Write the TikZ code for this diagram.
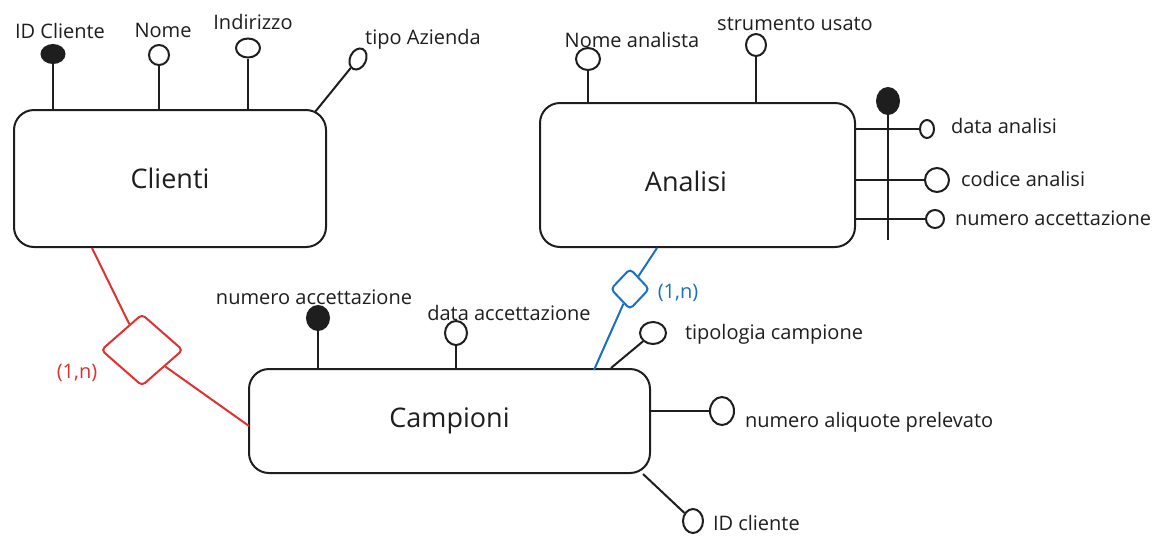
\documentclass[tikz,border=0pt]{standalone}
\usepackage{fontspec}
\setmainfont{Open Sans}
\usepackage{xcolor}
\usetikzlibrary{shapes.geometric}
\definecolor{ink}{HTML}{1E1E1E}
\definecolor{relred}{HTML}{E03131}
\definecolor{relblue}{HTML}{1971C2}
\newcommand{\attrsize}{\fontsize{20}{23}\selectfont}
\newcommand{\entsize}{\fontsize{27}{31}\selectfont}
\tikzset{
	entity/.style={rectangle,draw=ink,line width=2pt,rounded corners=20pt,font=\entsize,text=ink},
	ent label/.style={font=\entsize,text=ink,inner sep=0pt},
	attr/.style={ellipse,draw=ink,line width=2pt,inner sep=0pt,minimum width=20pt,minimum height=20pt},
	key attr/.style={attr,fill=ink},
	attr label/.style={font=\attrsize,text=ink,inner sep=0pt},
	rel/.style={diamond,draw,line width=2pt,inner sep=0pt,rounded corners=4pt},
	card/.style={font=\attrsize,inner sep=0pt}
}

\begin{document}
\begin{tikzpicture}[x=1pt,y=-1pt,line width=2pt,color=ink]
      \useasboundingbox (0,0) rectangle (1170,547);

      % entities
      \node[entity,minimum width=312pt,minimum height=137pt] (cli) at (170,178.5) {Clienti};
      \node[entity,minimum width=315pt,minimum height=144pt] (ana) at (697.5,175) {};
      \node[ent label] (ana-l) at (686,181) {Analisi};
      \node[entity,minimum width=401pt,minimum height=104pt] (cam) at (449.5,421) {Campioni};

      % Clienti
      \node[key attr,minimum width=23pt,minimum height=18pt] (idc) at (53,54) {};
      \node[attr label] (idc-l) at (60,31) {ID Cliente};
      \node[attr] (nom) at (159,55) {};
      \node[attr label] (nom-l) at (163,30) {Nome};
      \node[attr,minimum width=24pt,minimum height=19pt] (ind) at (248,48) {};
      \node[attr label] (ind-l) at (253,22) {Indirizzo};
      \node[attr,minimum width=16pt,minimum height=22pt,rotate=-25] (tip) at (358,59) {};
      \node[attr label] (tip-l) at (423,39) {tipo Azienda};
      \coordinate (tip-a) at (315,112);

      \draw (idc) -- (idc |- cli.north);
      \draw (nom) -- (nom |- cli.north);
      \draw (ind) -- (ind |- cli.north);
      \draw (tip-a) -- (tip);

      % Analisi
      \node[attr,minimum width=24pt,minimum height=22pt] (nan) at (588,59) {};
      \node[attr label] (nan-l) at (632,40) {Nome analista};
      \node[attr,minimum width=20pt,minimum height=22pt] (str) at (756,45) {};
      \node[attr label] (str-l) at (795,24) {strumento usato};
      \node[key attr,minimum width=22pt,minimum height=26pt] (kan) at (888,101) {};
      \coordinate (kan-e) at (888,240);
      \node[attr,minimum width=14pt,minimum height=18pt] (dan) at (927,129) {};
      \node[attr label,anchor=west] (dan-l) at (950,126) {data analisi};
      \node[attr,minimum width=24pt,minimum height=24pt] (cod) at (937,180) {};
      \node[attr label,anchor=west] (cod-l) at (960,179) {codice analisi};
      \node[attr,minimum width=18pt,minimum height=18pt] (nac) at (935,219) {};
      \node[attr label,anchor=west] (nac-l) at (954,218) {numero accettazione};

      \draw (nan) -- (nan |- ana.north);
      \draw (str) -- (str |- ana.north);
      \draw (kan) -- (kan-e);
      \draw (ana.east |- dan) -- (dan);
      \draw (ana.east |- cod) -- (cod);
      \draw (ana.east |- nac) -- (nac);

      % Campioni
      \node[key attr,minimum width=22pt,minimum height=24pt] (ncc) at (318,318) {};
      \node[attr label] (ncc-l) at (314,297) {numero accettazione};
      \node[attr,minimum width=22pt,minimum height=24pt] (dac) at (456,333) {};
      \node[attr label] (dac-l) at (509,313) {data accettazione};
      \node[attr,minimum width=26pt,minimum height=22pt] (tpc) at (653,333) {};
      \node[attr label,anchor=west] (tpc-l) at (684,334) {tipologia campione};
      \coordinate (tpc-a) at (611,368);
      \node[attr,minimum width=24pt,minimum height=28pt] (alq) at (722,411) {};
      \node[attr label,anchor=west] (alq-l) at (744,422) {numero aliquote prelevato};
      \node[attr,minimum width=20pt,minimum height=24pt] (idk) at (693,521) {};
      \node[attr label,anchor=west] (idk-l) at (712,523) {ID cliente};
      \coordinate (idk-a) at (643,474);

      \draw (ncc) -- (ncc |- cam.north);
      \draw (dac) -- (dac |- cam.north);
      \draw (tpc-a) -- (tpc);
      \draw (cam.east |- alq) -- (alq);
      \draw (idk-a) -- (idk);

      % relationships
      \node[rel,draw=relred,minimum width=82pt,minimum height=72pt] (rcc) at (142,350) {};
      \node[card,text=relred] (rcc-c) at (77,373) {(1,n)};
      \coordinate (rcc-a) at (92,248);
      \coordinate (rcc-b) at (249,426);
      \draw[relred] (rcc-a) -- (rcc);
      \draw[relred] (rcc) -- (rcc-b);

      \node[rel,draw=relblue,minimum width=39pt,minimum height=41pt] (rca) at (630,289) {};
      \node[card,text=relblue] (rca-c) at (678,293) {(1,n)};
      \coordinate (rca-a) at (657,248);
      \coordinate (rca-b) at (594,370);
      \draw[relblue] (rca-a) -- (rca);
      \draw[relblue] (rca) -- (rca-b);
\end{tikzpicture}
\end{document}
